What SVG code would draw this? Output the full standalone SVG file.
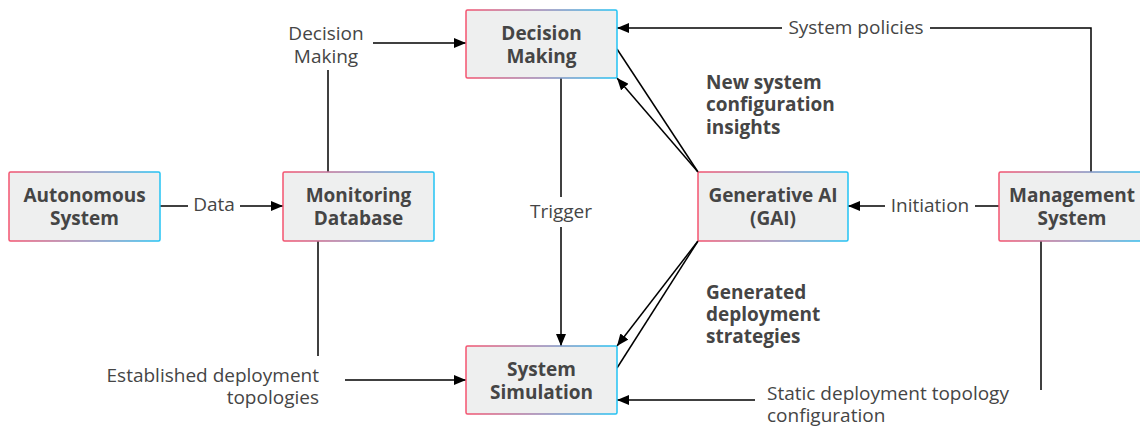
<svg xmlns="http://www.w3.org/2000/svg" width="1140" height="428" viewBox="0 0 1140 428">
  <defs>
    <linearGradient id="edge" x1="0" y1="0" x2="1" y2="0">
      <stop offset="0" stop-color="#f4536f"/>
      <stop offset="0.5" stop-color="#9a86b4"/>
      <stop offset="1" stop-color="#22c3f4"/>
    </linearGradient>
    <marker id="arrow" viewBox="0 0 12 10" refX="12" refY="5" markerWidth="12" markerHeight="10" markerUnits="userSpaceOnUse" orient="auto">
      <path d="M0,0 L12,5 L0,10 Z" fill="#000"/>
    </marker>
  </defs>
  <style>
    .box { fill: #eeefef; stroke: url(#edge); stroke-width: 1.5; }
    .title { font-family: "Open Sans", "Liberation Sans", sans-serif; font-size: 19px; font-weight: bold; fill: #454545; text-anchor: middle; }
    .lbl { font-family: "Open Sans", "Liberation Sans", sans-serif; font-size: 19px; fill: #454545; }
    .note { font-family: "Open Sans", "Liberation Sans", sans-serif; font-size: 19px; font-weight: bold; fill: #454545; }
    .wire { fill: none; stroke: #000; stroke-width: 1.5; }
    .arr { fill: none; stroke: #000; stroke-width: 1.5; marker-end: url(#arrow); }
  </style>
  <rect width="1140" height="428" fill="#fff"/>

  <!-- connectors -->
  <g id="connectors">
    <!-- Autonomous System -> Monitoring Database -->
    <line class="wire" x1="160" y1="206" x2="188" y2="206"/>
    <text class="lbl" x="214" y="211" text-anchor="middle">Data</text>
    <line class="arr" x1="240" y1="206" x2="283" y2="206"/>

    <!-- Monitoring Database -> Decision Making -->
    <line class="wire" x1="328" y1="172" x2="328" y2="70"/>
    <text class="lbl" text-anchor="middle"><tspan x="326" y="40">Decision</tspan><tspan x="326" y="63">Making</tspan></text>
    <line class="arr" x1="373" y1="43" x2="466" y2="43"/>

    <!-- Monitoring Database -> System Simulation -->
    <line class="wire" x1="318" y1="241" x2="318" y2="356"/>
    <text class="lbl" text-anchor="end"><tspan x="319" y="382">Established deployment</tspan><tspan x="319" y="404">topologies</tspan></text>
    <line class="arr" x1="345" y1="380" x2="466" y2="380"/>

    <!-- Decision Making -> System Simulation -->
    <line class="wire" x1="561" y1="78" x2="561" y2="197"/>
    <text class="lbl" x="561" y="218" text-anchor="middle">Trigger</text>
    <line class="arr" x1="561" y1="227" x2="561" y2="346"/>

    <!-- Management System -> Decision Making -->
    <polyline class="wire" points="1091,172 1091,28 930,28"/>
    <text class="lbl" x="856" y="34" text-anchor="middle">System policies</text>
    <line class="arr" x1="782" y1="28" x2="617" y2="28"/>

    <!-- Management System -> Generative AI -->
    <line class="wire" x1="999" y1="206" x2="975" y2="206"/>
    <text class="lbl" x="930" y="212" text-anchor="middle">Initiation</text>
    <line class="arr" x1="885" y1="206" x2="848" y2="206"/>

    <!-- Management System -> System Simulation -->
    <line class="wire" x1="1041" y1="241" x2="1041" y2="390"/>
    <text class="lbl"><tspan x="767" y="400">Static deployment topology</tspan><tspan x="767" y="422">configuration</tspan></text>
    <line class="arr" x1="755" y1="400" x2="617" y2="400"/>

    <!-- Decision Making <-> Generative AI -->
    <line class="wire" x1="617" y1="49" x2="698" y2="172"/>
    <line class="arr" x1="698" y1="172" x2="617" y2="78"/>
    <text class="note"><tspan x="706" y="89">New system</tspan><tspan x="706" y="111">configuration</tspan><tspan x="706" y="134">insights</tspan></text>

    <!-- Generative AI <-> System Simulation -->
    <line class="arr" x1="698" y1="241" x2="617" y2="346"/>
    <line class="wire" x1="617" y1="368" x2="698" y2="241"/>
    <text class="note"><tspan x="706" y="299">Generated</tspan><tspan x="706" y="321">deployment</tspan><tspan x="706" y="343">strategies</tspan></text>
  </g>

  <!-- nodes -->
  <g id="autonomous-system">
    <rect class="box" x="9" y="172" width="151" height="69" rx="1.5"/>
    <text class="title"><tspan x="84.5" y="202">Autonomous</tspan><tspan x="84.5" y="225">System</tspan></text>
  </g>
  <g id="monitoring-database">
    <rect class="box" x="283" y="172" width="151" height="69" rx="1.5"/>
    <text class="title"><tspan x="358.5" y="202">Monitoring</tspan><tspan x="358.5" y="225">Database</tspan></text>
  </g>
  <g id="decision-making">
    <rect class="box" x="466" y="10" width="151" height="68" rx="1.5"/>
    <text class="title"><tspan x="541.5" y="40">Decision</tspan><tspan x="541.5" y="63">Making</tspan></text>
  </g>
  <g id="system-simulation">
    <rect class="box" x="466" y="346" width="151" height="68" rx="1.5"/>
    <text class="title"><tspan x="541.5" y="376">System</tspan><tspan x="541.5" y="399">Simulation</tspan></text>
  </g>
  <g id="generative-ai">
    <rect class="box" x="698" y="172" width="150" height="69" rx="1.5"/>
    <text class="title"><tspan x="773" y="202">Generative AI</tspan><tspan x="773" y="225">(GAI)</tspan></text>
  </g>
  <g id="management-system">
    <rect class="box" x="999" y="172" width="151" height="69" rx="1.5"/>
    <text class="title"><tspan x="1072" y="202">Management</tspan><tspan x="1072" y="225">System</tspan></text>
  </g>
</svg>
